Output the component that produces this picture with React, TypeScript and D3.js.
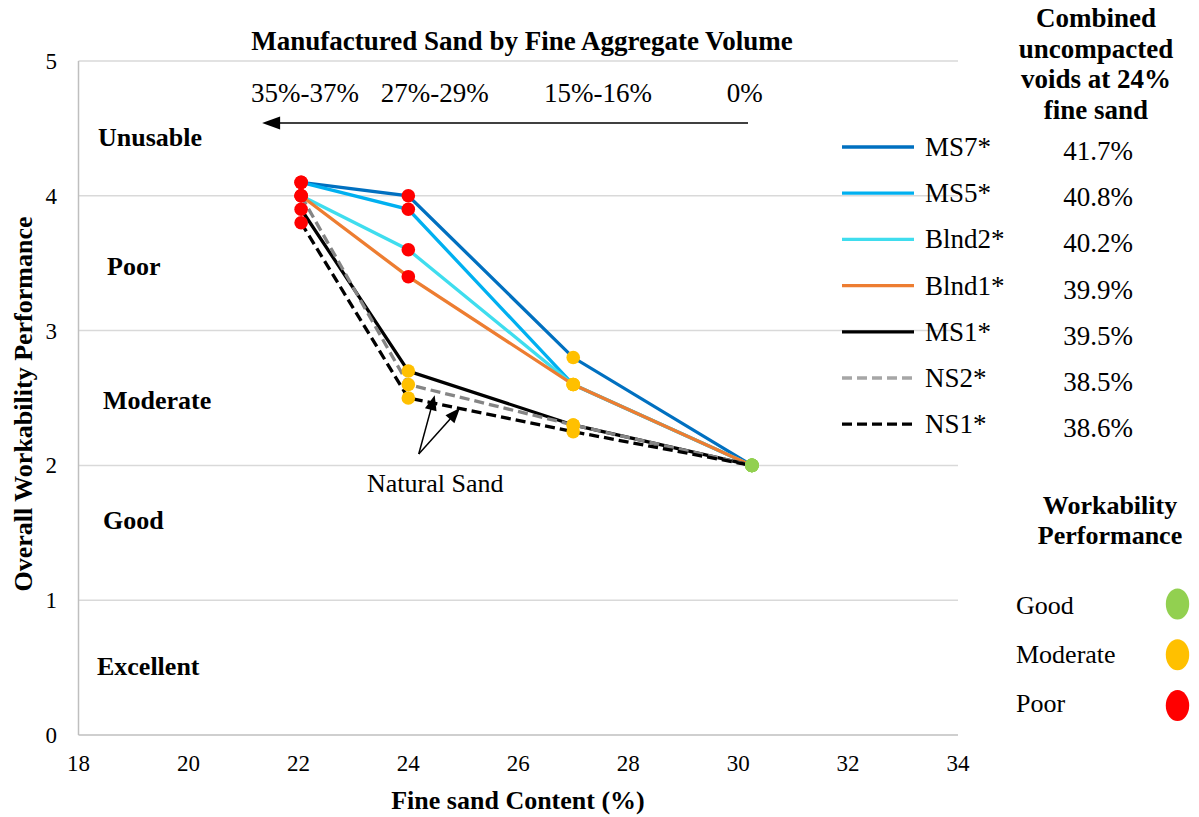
import React from 'react';
import * as d3 from 'd3';

// ---------- data ----------
const xTicks = [18, 20, 22, 24, 26, 28, 30, 32, 34];
const yTicks = [0, 1, 2, 3, 4, 5];
const fineSand = [22.05, 24, 27, 30.25];

const seriesNames = ['MS7*', 'MS5*', 'Blnd2*', 'Blnd1*', 'MS1*', 'NS2*', 'NS1*'];
const ms7 = [4.1, 4.0, 2.8, 2.0];
const ms5 = [4.1, 3.9, 2.6, 2.0];
const blnd2 = [4.0, 3.6, 2.6, 2.0];
const blnd1 = [4.0, 3.4, 2.6, 2.0];
const ms1 = [3.9, 2.7, 2.3, 2.0];
const ns2 = [4.0, 2.6, 2.3, 2.0];
const ns1 = [3.8, 2.5, 2.25, 2.0];
const seriesValues = [ms7, ms5, blnd2, blnd1, ms1, ns2, ns1];
const seriesColors = ['#0070C0', '#00B0F0', '#3FDDEE', '#ED7D31', '#000000', '#858585', '#000000'];
const seriesDash = [null, null, null, null, null, '10,5', '10,5'];
const voids = ['41.7%', '40.8%', '40.2%', '39.9%', '39.5%', '38.5%', '38.6%'];

const bandLabels = ['Unusable', 'Poor', 'Moderate', 'Good', 'Excellent'];
const bandLabelX = [18.355, 18.52, 18.445, 18.445, 18.336];
const bandLabelY = [4.436, 3.479, 2.485, 1.595, 0.512];

const msLabels = ['35%-37%', '27%-29%', '15%-16%', '0%'];
const msLabelX = [22.12, 24.48, 27.45, 30.12];
const msLabelY = 4.76;
const msArrowFrom = 30.18;
const msArrowTo = 21.34;
const msArrowY = 4.54;

const natLabelPos = [24.49, 1.87];
const natArrowStart = [24.19, 2.085];
const natArrowTips = [[24.48, 2.52], [24.94, 2.425]];

const perfNames = ['Good', 'Moderate', 'Poor'];
const perfColors = ['#92D050', '#FFC000', '#FF0000'];

const FONT = "'Liberation Serif', 'Times New Roman', Times, serif";

function ratingColor(v: number) {
  if (v > 3) return perfColors[2];
  if (v > 2) return perfColors[1];
  return perfColors[0];
}

function arrowHead(x1: number, y1: number, x2: number, y2: number, len = 15, half = 6) {
  const a = Math.atan2(y2 - y1, x2 - x1);
  const bx = x2 - len * Math.cos(a);
  const by = y2 - len * Math.sin(a);
  const px = -Math.sin(a) * half;
  const py = Math.cos(a) * half;
  return `${x2},${y2} ${bx + px},${by + py} ${bx - px},${by - py}`;
}

export default function App() {
  const W = 1199, H = 817;
  const x = d3.scaleLinear().domain([18, 34]).range([78.5, 958]);
  const y = d3.scaleLinear().domain([0, 5]).range([735, 61]);
  const line = d3.line<[number, number]>().x(d => x(d[0])).y(d => y(d[1]));

  const legendY0 = 147, legendStep = 46.2;

  const [ax1, ax2] = [x(msArrowFrom), x(msArrowTo)];
  const ay = y(msArrowY);

  const ns = [x(natArrowStart[0]), y(natArrowStart[1])];

  return (
    <svg width={W} height={H} style={{ position: 'absolute', left: 0, top: 0, background: '#fff' }} fontFamily={FONT}>
      <rect x={0} y={0} width={W} height={H} fill="#fff" />
      {/* gridlines */}
      {yTicks.map(t => (
        <line key={'g' + t} x1={x(18)} x2={x(34)} y1={y(t)} y2={y(t)}
          stroke={t === 0 ? '#BFBFBF' : '#D9D9D9'} strokeWidth={1.5} />
      ))}
      <line x1={x(18)} x2={x(18)} y1={y(0)} y2={y(5)} stroke="#BFBFBF" strokeWidth={1.5} />

      {/* y tick labels */}
      {yTicks.map(t => (
        <text key={'yt' + t} x={57} y={y(t) + 8} fontSize={23} textAnchor="end" fill="#000">{t}</text>
      ))}
      {/* x tick labels */}
      {xTicks.map(t => (
        <text key={'xt' + t} x={x(t)} y={771} fontSize={23} textAnchor="middle" fill="#000">{t}</text>
      ))}

      {/* axis titles */}
      <text x={518} y={809} fontSize={26} fontWeight="bold" textAnchor="middle">Fine sand Content (%)</text>
      <text transform="translate(32,404) rotate(-90)" fontSize={26} fontWeight="bold" textAnchor="middle">Overall Workability Performance</text>

      {/* band labels */}
      {bandLabels.map((b, i) => (
        <text key={b} x={x(bandLabelX[i])} y={y(bandLabelY[i]) + 9} fontSize={26} fontWeight="bold">{b}</text>
      ))}

      {/* top title and categories */}
      <text x={522} y={50} fontSize={27} fontWeight="bold" textAnchor="middle">Manufactured Sand by Fine Aggregate Volume</text>
      {msLabels.map((m, i) => (
        <text key={m} x={x(msLabelX[i])} y={y(msLabelY) + 9} fontSize={27} textAnchor="middle">{m}</text>
      ))}
      <line x1={ax1} x2={ax2 + 12} y1={ay} y2={ay} stroke="#000" strokeWidth={1.5} />
      <polygon points={arrowHead(ax1, ay, ax2, ay, 18, 6.5)} fill="#000" />

      {/* series lines */}
      {seriesValues.map((vals, i) => (
        <path key={'s' + i}
          d={line(fineSand.map((f, j) => [f, vals[j]] as [number, number])) || ''}
          fill="none" stroke={seriesColors[i]} strokeWidth={3.3}
          strokeDasharray={seriesDash[i] || undefined} />
      ))}
      {/* markers */}
      {seriesValues.map((vals, i) => (
        <g key={'m' + i}>
          {fineSand.map((f, j) => (
            <circle key={j} cx={x(f)} cy={y(vals[j])} r={6.8} fill={ratingColor(vals[j])} />
          ))}
        </g>
      ))}

      {/* natural sand annotation */}
      <text x={x(natLabelPos[0])} y={y(natLabelPos[1]) + 9} fontSize={26} textAnchor="middle">Natural Sand</text>
      {natArrowTips.map((tp, i) => {
        const tx = x(tp[0]), ty = y(tp[1]);
        const a = Math.atan2(ty - ns[1], tx - ns[0]);
        return (
          <g key={'na' + i}>
            <line x1={ns[0]} y1={ns[1]} x2={tx - 12 * Math.cos(a)} y2={ty - 12 * Math.sin(a)} stroke="#000" strokeWidth={1.5} />
            <polygon points={arrowHead(ns[0], ns[1], tx, ty, 15, 6)} fill="#000" />
          </g>
        );
      })}

      {/* series legend */}
      {['Combined', 'uncompacted', 'voids at 24%', 'fine sand'].map((t, i) => (
        <text key={t} x={1096} y={27 + i * 30.7} fontSize={27} fontWeight="bold" textAnchor="middle">{t}</text>
      ))}
      {seriesNames.map((n, i) => {
        const ly = legendY0 + i * legendStep;
        return (
          <g key={n}>
            <line x1={842} x2={914} y1={ly} y2={ly} stroke={i === 5 ? '#A6A6A6' : seriesColors[i]} strokeWidth={3.3}
              strokeDasharray={seriesDash[i] || undefined} />
            <text x={925} y={ly + 9} fontSize={27}>{n}</text>
            <text x={1098} y={ly + 13} fontSize={27} textAnchor="middle">{voids[i]}</text>
          </g>
        );
      })}

      {/* workability legend */}
      <text x={1110} y={514} fontSize={26} fontWeight="bold" textAnchor="middle">Workability</text>
      <text x={1110} y={544} fontSize={26} fontWeight="bold" textAnchor="middle">Performance</text>
      {perfNames.map((p, i) => (
        <g key={p}>
          <text x={1016} y={614 + i * 49} fontSize={26}>{p}</text>
          <ellipse cx={1177.5} cy={604 + i * 50.8} rx={11.7} ry={15.5} fill={perfColors[i]} />
        </g>
      ))}
    </svg>
  );
}
